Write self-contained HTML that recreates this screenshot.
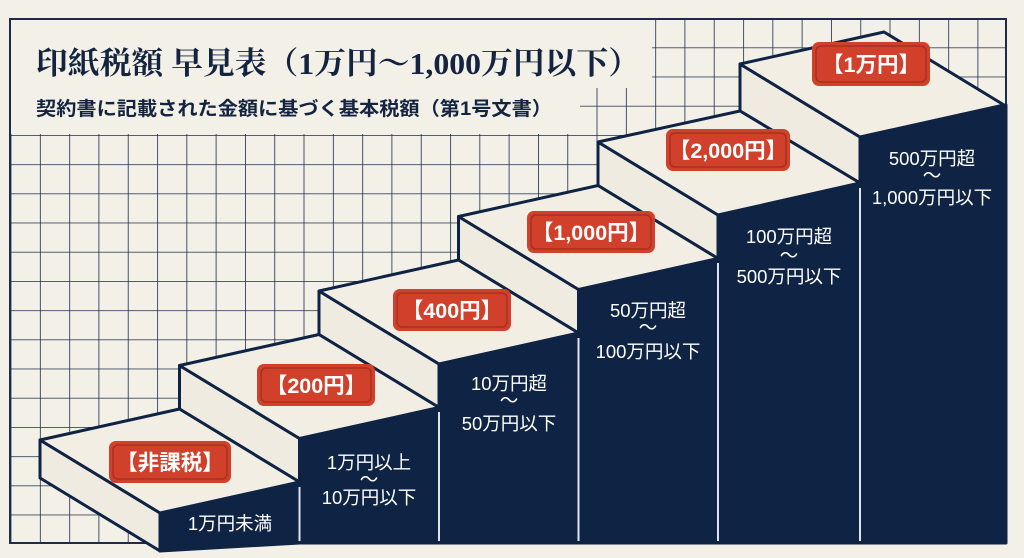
<!DOCTYPE html>
<html><head><meta charset="utf-8"><style>
html,body{margin:0;padding:0;background:#f3f0e7;}
svg{display:block}
text{font-family:"Liberation Sans","Noto Sans CJK JP",sans-serif;}
</style></head><body>
<svg width="1024" height="558" viewBox="0 0 1024 558" xmlns="http://www.w3.org/2000/svg">
<defs>
<clipPath id="fr"><rect x="10" y="19" width="996" height="524"/></clipPath>
<pattern id="g" x="10.6" y="18.2" width="29.3" height="29.2" patternUnits="userSpaceOnUse">
<path d="M0 0V29.2M0 0H29.3" stroke="#1c2c4a" stroke-width="1.6" fill="none"/>
</pattern>
</defs>
<rect width="1024" height="558" fill="#f3f0e7"/>
<rect x="10" y="19" width="996" height="524" fill="url(#g)" clip-path="url(#fr)"/>
<rect x="11" y="20" width="641" height="68" fill="#f3f0e7"/>
<rect x="11" y="20" width="569" height="114" fill="#f3f0e7"/>
<rect x="10" y="19" width="996" height="524" fill="none" stroke="#1c2c4a" stroke-width="2"/>

<text x="36" y="74" font-weight="bold" font-size="31" fill="#14233f" textLength="604" lengthAdjust="spacingAndGlyphs" style="font-family:'Liberation Serif','Noto Serif CJK SC',serif">印紙税額 早見表（1万円～1,000万円以下）</text>
<text x="36" y="115" font-weight="bold" font-size="19" fill="#14233f" textLength="516" lengthAdjust="spacingAndGlyphs">契約書に記載された金額に基づく基本税額（第1号文書）</text>

<g stroke="#0f2344" stroke-width="3" stroke-linejoin="round">
<polygon points="160,513 299.5,482 299.5,543 160,551" fill="#0f2344"/>
<polygon points="299.5,438.5 439,407.5 439,543 299.5,543" fill="#0f2344"/>
<polygon points="439,364 578.5,333 578.5,543 439,543" fill="#0f2344"/>
<polygon points="578.5,289.5 718,258.5 718,543 578.5,543" fill="#0f2344"/>
<polygon points="718,215 860,183 860,543 718,543" fill="#0f2344"/>
<polygon points="860,137 1004,105 1006,105 1006,543 860,543" fill="#0f2344"/>
<polygon points="40,440 160,513 160,551 40,478" fill="#efebe1"/>
<polygon points="179.5,365.5 299.5,438.5 299.5,482 179.5,409" fill="#efebe1"/>
<polygon points="319,291 439,364 439,407.5 319,334.5" fill="#efebe1"/>
<polygon points="458.5,216.5 578.5,289.5 578.5,333 458.5,260" fill="#efebe1"/>
<polygon points="598,142 718,215 718,258.5 598,185.5" fill="#efebe1"/>
<polygon points="740,64 860,137 860,183 740,111" fill="#efebe1"/>
<polygon points="40,440 179.5,409 299.5,482 160,513" fill="#f2eee4"/>
<polygon points="179.5,365.5 319,334.5 439,407.5 299.5,438.5" fill="#f2eee4"/>
<polygon points="319,291 458.5,260 578.5,333 439,364" fill="#f2eee4"/>
<polygon points="458.5,216.5 598,185.5 718,258.5 578.5,289.5" fill="#f2eee4"/>
<polygon points="598,142 740,111 860,183 718,215" fill="#f2eee4"/>
<polygon points="740,64 884,32 1004,105 860,137" fill="#f2eee4"/>
</g>
<g stroke="#dfe3ea" stroke-width="2">
<line x1="299.5" y1="487" x2="299.5" y2="541"/>
<line x1="439" y1="412" x2="439" y2="541"/>
<line x1="578.5" y1="338" x2="578.5" y2="541"/>
<line x1="718" y1="263" x2="718" y2="541"/>
<line x1="860" y1="188" x2="860" y2="541"/>
</g>

<g fill="#fff" font-size="18.5" text-anchor="middle">
<text x="230" y="530">1万円未満</text>
<text x="369" y="469">1万円以上</text><text x="369" y="486">〜</text><text x="369" y="504">10万円以下</text>
<text x="509" y="390">10万円超</text><text x="509" y="407">〜</text><text x="509" y="430">50万円以下</text>
<text x="648" y="317">50万円超</text><text x="648" y="334">〜</text><text x="648" y="358">100万円以下</text>
<text x="789" y="243">100万円超</text><text x="789" y="262">〜</text><text x="789" y="283">500万円以下</text>
<text x="932" y="165">500万円超</text><text x="932" y="182">〜</text><text x="932" y="204">1,000万円以下</text>
</g>

<g font-size="21.5" font-weight="bold" text-anchor="middle" fill="#fff">
<rect x="109" y="441" width="122" height="42" rx="7" fill="#d0402a"/><rect x="113" y="445" width="114" height="34" rx="5" fill="none" stroke="#a8301f" stroke-width="1.5"/>
<text x="170" y="470">【非課税】</text>
<rect x="257" y="364" width="118" height="42" rx="7" fill="#d0402a"/><rect x="261" y="368" width="110" height="34" rx="5" fill="none" stroke="#a8301f" stroke-width="1.5"/>
<text x="316" y="393">【200円】</text>
<rect x="393" y="289" width="118" height="42" rx="7" fill="#d0402a"/><rect x="397" y="293" width="110" height="34" rx="5" fill="none" stroke="#a8301f" stroke-width="1.5"/>
<text x="452" y="318">【400円】</text>
<rect x="527" y="211" width="128" height="42" rx="7" fill="#d0402a"/><rect x="531" y="215" width="120" height="34" rx="5" fill="none" stroke="#a8301f" stroke-width="1.5"/>
<text x="591" y="240">【1,000円】</text>
<rect x="666" y="129" width="124" height="42" rx="7" fill="#d0402a"/><rect x="670" y="133" width="116" height="34" rx="5" fill="none" stroke="#a8301f" stroke-width="1.5"/>
<text x="728" y="158">【2,000円】</text>
<rect x="812" y="42" width="118" height="44" rx="7" fill="#d0402a"/><rect x="816" y="46" width="110" height="36" rx="5" fill="none" stroke="#a8301f" stroke-width="1.5"/>
<text x="871" y="72">【1万円】</text>
</g>
</svg>
</body></html>
